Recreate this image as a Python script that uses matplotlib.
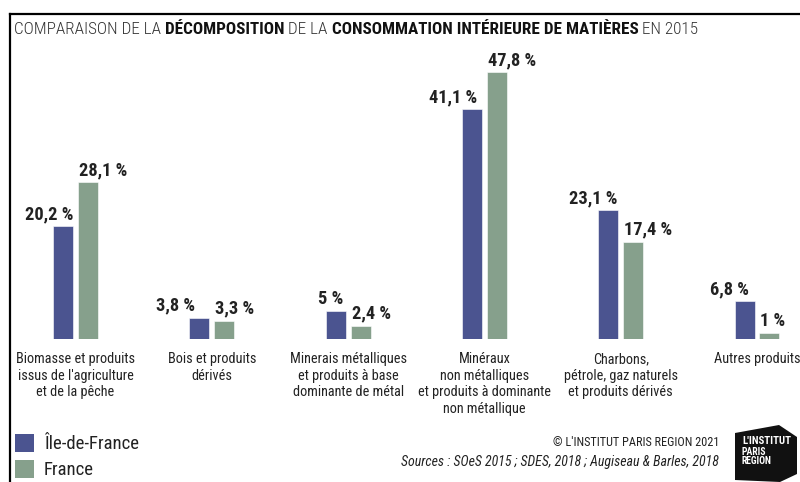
import matplotlib
matplotlib.use("Agg")
import matplotlib.pyplot as plt
from matplotlib.patches import Polygon, Patch
from matplotlib.lines import Line2D
import numpy as np

categories = [
    "Biomasse et produits\nissus de l'agriculture\net de la pêche",
    "Bois et produits\ndérivés",
    "Minerais métalliques\net produits à base\ndominante de métal",
    "Minéraux\nnon métalliques\net produits à dominante\nnon métallique",
    "Charbons,\npétrole, gaz naturels\net produits dérivés",
    "Autres produits",
]
idf_values = [20.2, 3.8, 5.0, 41.1, 23.1, 6.8]
fr_values = [28.1, 3.3, 2.4, 47.8, 17.4, 1.0]
idf_labels = ["20,2 %", "3,8 %", "5 %", "41,1 %", "23,1 %", "6,8 %"]
fr_labels = ["28,1 %", "3,3 %", "2,4 %", "47,8 %", "17,4 %", "1 %"]
series_names = ["Île-de-France", "France"]

IDF_COLOR = "#4b5490"
FR_COLOR = "#86a08c"
FONT = ["Roboto Condensed", "Archivo Narrow", "Liberation Sans", "DejaVu Sans"]
plt.rcParams["font.family"] = FONT

W, H = 800, 482
fig = plt.figure(figsize=(W / 100, H / 100), dpi=100)
fig.patch.set_facecolor("white")

def fx(x):
    return x / W

def fy(y):
    return 1 - y / H

# axes geometry in pixels
ax_left, ax_right = 10, 800
ax_top, ax_bottom = 14, 339
group_px = 136.3
first_center = 75.5
ax = fig.add_axes([fx(ax_left), fy(ax_bottom), fx(ax_right - ax_left), (ax_bottom - ax_top) / H])
ax.set_xlim((ax_left - first_center) / group_px, (ax_right - first_center) / group_px)
px_per_unit = 5.586
ax.set_ylim(0, (ax_bottom - ax_top) / px_per_unit)
ax.axis("off")

x = np.arange(len(categories))
bw = 20 / group_px
off = 12.4 / group_px
b1 = ax.bar(x - off, idf_values, bw, color=IDF_COLOR, edgecolor="white", linewidth=0.4)
b2 = ax.bar(x + off, fr_values, bw, color=FR_COLOR, edgecolor="white", linewidth=0.4)

# value labels (pixel nudges converted to points)
idf_nudge_px = [10, -4, 7.5, 5, 9, 4.5]
for i in range(len(categories)):
    ax.annotate(idf_labels[i], (x[i] - off, idf_values[i]), xytext=(idf_nudge_px[i] * 0.72, 5),
                textcoords="offset points", ha="right", va="baseline",
                fontsize=13.2, fontweight="bold", color="#222222")
    ax.annotate(fr_labels[i], (x[i] + off, fr_values[i]), xytext=(-9 * 0.72, 5),
                textcoords="offset points", ha="left", va="baseline",
                fontsize=13.2, fontweight="bold", color="#222222")

# category labels
for i, c in enumerate(categories):
    ax.annotate(c, (x[i], 0), xytext=(0, -13 * 0.72), textcoords="offset points",
                ha="center", va="top", fontsize=10.3, color="#222222", linespacing=1.24)

# frame lines
fig.add_artist(Line2D([fx(10), fx(10)], [fy(14), fy(482)], color="black", lw=1.6, transform=fig.transFigure))
fig.add_artist(Line2D([fx(10), fx(800)], [fy(14), fy(14)], color="black", lw=1.6, transform=fig.transFigure))

# title with mixed weights
parts = [("COMPARAISON DE LA ", "light"), ("DÉCOMPOSITION", "bold"), (" DE LA ", "light"),
         ("CONSOMMATION INTÉRIEURE DE MATIÈRES", "bold"), (" EN 2015", "light")]
renderer = fig.canvas.get_renderer()
cx = 14
for txt, wt in parts:
    t = fig.text(fx(cx), fy(30), txt, fontsize=12.3, fontweight=wt,
                 color="#111111" if wt == "bold" else "#333333", ha="left", va="center")
    bb = t.get_window_extent(renderer=renderer)
    cx += bb.width

# legend
handles = [Patch(facecolor=IDF_COLOR), Patch(facecolor=FR_COLOR)]
leg = fig.legend(handles, series_names, loc="upper left", bbox_to_anchor=(fx(11), fy(430)),
                 frameon=False, fontsize=13.5, handlelength=1.05, handleheight=1.1,
                 handletextpad=0.5, labelspacing=0.36, borderpad=0.2, borderaxespad=0)
for t in leg.get_texts():
    t.set_color("#222222")

# credits
fig.text(fx(719), fy(443), "© L'INSTITUT PARIS REGION 2021", ha="right", va="center",
         fontsize=8.8, color="#222222")
fig.text(fx(719), fy(462), "Sources : SOeS 2015 ; SDES, 2018 ; Augiseau & Barles, 2018", ha="right",
         va="center", fontsize=10, style="italic", color="#222222")

# logo
pts = [(735, 433), (779, 425), (797, 437), (797, 474), (780, 482), (735, 480)]
fig.add_artist(Polygon([(fx(a), fy(b)) for a, b in pts], closed=True, facecolor="#111111",
                       edgecolor="none", transform=fig.transFigure))
fig.text(fx(742), fy(441), "L'INSTITUT", ha="left", va="center", fontsize=7.8, fontweight="bold", color="white")
fig.text(fx(742), fy(452), "PARIS", ha="left", va="center", fontsize=7, fontweight="bold", color="white")
fig.text(fx(742), fy(461), "REGION", ha="left", va="center", fontsize=7, fontweight="bold", color="white")

fig.savefig("out.png", dpi=100)
